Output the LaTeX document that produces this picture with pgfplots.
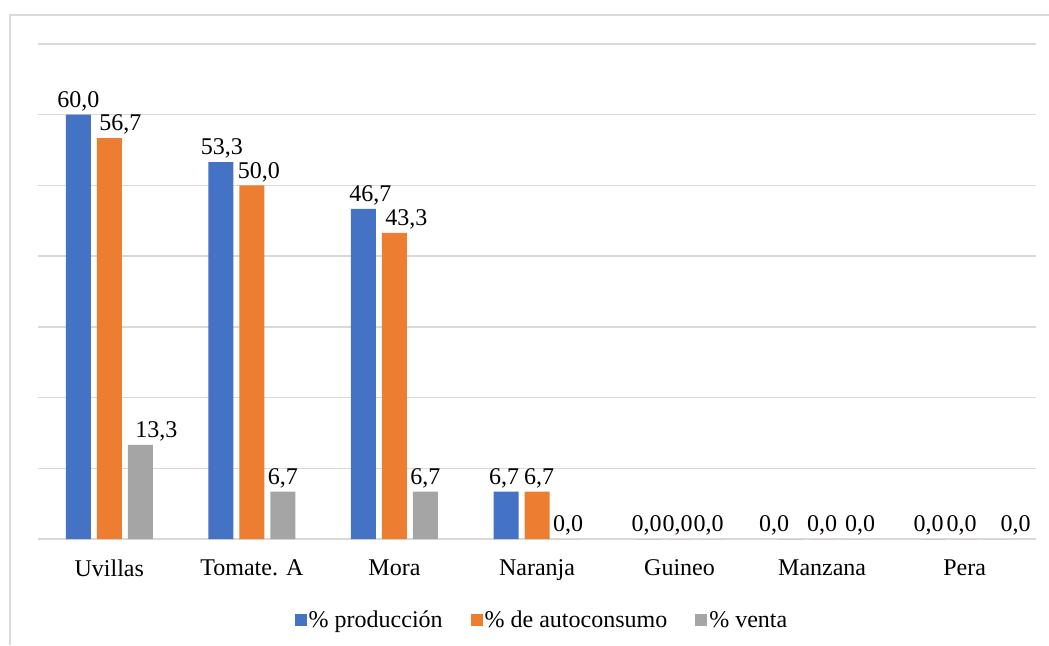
\documentclass[border=0pt]{standalone}
\usepackage{fontspec}
\setmainfont{Liberation Serif}
\usepackage{pgfplots}
\usepackage{pgfplotstable}
\pgfplotsset{compat=1.18}
\definecolor{cblue}{HTML}{4472C4}
\definecolor{corange}{HTML}{ED7D31}
\definecolor{cgray}{HTML}{A5A5A5}
\definecolor{cgrid}{HTML}{D9D9D9}
\pgfplotstableread{
x y dx
0 60.0 0
1 53.3 1
2 46.7 7
3 6.7 -2
4 0 -2
5 0 -17
6 0 -5
}\prod
\pgfplotstableread{
x y dx
0 56.7 11
1 50.0 7
2 43.3 12
3 6.7 2
4 0 -2
5 0 0
6 0 -3
}\auto
\pgfplotstableread{
x y dx
0 13.3 16
1 6.7 0
2 6.7 0
3 0 0
4 0 -2
5 0 7
6 0 20
}\venta
\begin{document}
\begin{tikzpicture}
\path[use as bounding box] (0,0) rectangle (1049pt,645pt);
\draw[cgrid, line width=1.5pt] (10pt,0) -- (10pt,630pt) -- (1049pt,630pt);
\begin{axis}[
  at={(38pt,106pt)}, anchor=south west,
  scale only axis, width=998pt, height=495pt,
  ybar=6pt, bar width=25pt,
  xmin=-0.5, xmax=6.5, ymin=0, ymax=70,
  xtick={0,...,6},
  xticklabels={Uvillas, Tomate. A, Mora, Naranja, Guineo, Manzana, Pera},
  ytick={0,10,...,70}, yticklabels={},
  ymajorgrids, grid style={cgrid, line width=1.5pt},
  axis line style={draw=none},
  major tick length=0pt,
  tick label style={font=\fontsize{24}{28}\selectfont},
  xticklabel style={yshift=-17pt},
  visualization depends on={\thisrow{dx} \as \dx},
  nodes near coords,
  every node near coord/.append style={font=\fontsize{24}{28}\selectfont, text=black, xshift=\dx pt, inner xsep=0pt},
  /pgf/number format/.cd, fixed, fixed zerofill, precision=1, use comma, assume math mode=true,
  /pgfplots/.cd,
  legend style={at={(0.505,-0.1636)}, anchor=center, draw=none, fill=none,
    legend columns=-1, font=\fontsize{24}{28}\selectfont,
    /tikz/every even column/.append style={column sep=26pt}},
  legend image code/.code={\fill[#1] (0pt,-6pt) rectangle (12pt,6pt);},
]
\addplot[fill=cblue, draw=none] table[x=x, y=y] {\prod};
\addplot[fill=corange, draw=none] table[x=x, y=y] {\auto};
\addplot[fill=cgray, draw=none] table[x=x, y=y] {\venta};
\legend{\% producción, \% de autoconsumo, \% venta}
\end{axis}
\end{tikzpicture}
\end{document}
